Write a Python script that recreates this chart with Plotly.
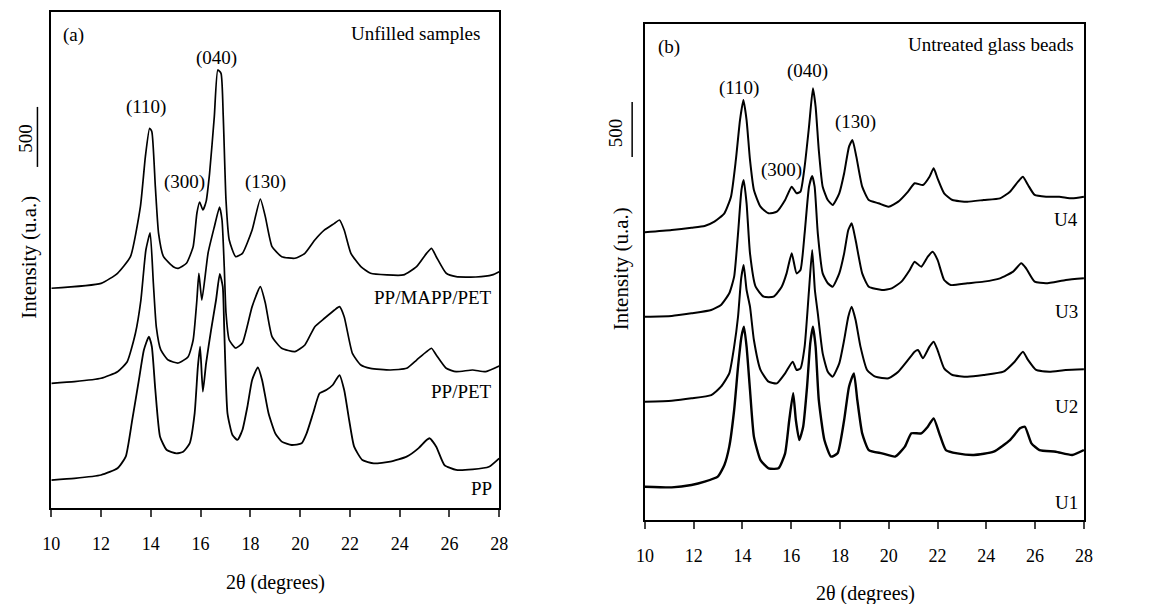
import plotly.graph_objects as go

W, H = 1149, 604

# (2theta, intensity), panel (a)
PP_MAPP_PET = [(10.0, 1831), (12.0, 1872), (12.66, 1956), (13.18, 2094), (13.58, 2511), (13.78, 2928),
               (13.95, 3164), (14.04, 3136), (14.18, 2678), (14.31, 2289), (14.51, 2094), (14.9, 2011),
               (15.1, 1997), (15.43, 2039), (15.7, 2178), (15.85, 2456), (15.96, 2550), (16.09, 2483),
               (16.22, 2553), (16.36, 2789), (16.55, 3261), (16.69, 3650), (16.82, 3622), (16.91, 3261),
               (17.02, 2567), (17.15, 2233), (17.41, 2094), (17.68, 2122), (18.07, 2317), (18.4, 2575),
               (18.6, 2428), (18.87, 2178), (19.26, 2094), (19.79, 2081), (20.19, 2122), (20.59, 2233),
               (20.98, 2317), (21.38, 2372), (21.58, 2400), (21.77, 2317), (22.04, 2122), (22.44, 2011),
               (22.83, 1956), (23.49, 1942), (24.15, 1942), (24.68, 2011), (25.08, 2122), (25.28, 2164),
               (25.47, 2094), (25.87, 1956), (26.27, 1928), (27.06, 1925), (27.72, 1942), (28.0, 1969)]

PP_PET = [(10.0, 1039), (10.93, 1053), (12.0, 1081), (12.66, 1136), (13.05, 1219), (13.38, 1456),
          (13.6, 1733), (13.8, 2150), (13.97, 2292), (14.1, 1875), (14.22, 1508), (14.4, 1317),
          (14.7, 1233), (15.1, 1208), (15.5, 1261), (15.7, 1400), (15.85, 1733), (15.93, 1956),
          (16.05, 1733), (16.3, 2125), (16.55, 2342), (16.76, 2508), (16.86, 2400), (16.95, 2008),
          (17.02, 1625), (17.15, 1400), (17.41, 1333), (17.68, 1375), (18.07, 1678), (18.4, 1844),
          (18.6, 1708), (18.87, 1428), (19.26, 1331), (19.79, 1303), (20.19, 1358), (20.59, 1511),
          (20.98, 1581), (21.38, 1650), (21.58, 1678), (21.77, 1594), (22.1, 1289), (22.44, 1192),
          (22.83, 1164), (23.62, 1150), (24.28, 1164), (24.68, 1233), (25.08, 1303), (25.28, 1331),
          (25.47, 1275), (25.87, 1164), (26.27, 1136), (26.93, 1150), (27.46, 1136), (28.0, 1183)]

PP = [(10.0, 233), (10.93, 247), (12.0, 275), (12.66, 331), (12.99, 428), (13.25, 733), (13.52, 1067),
      (13.72, 1317), (13.92, 1428), (14.04, 1344), (14.18, 983), (14.37, 594), (14.64, 483),
      (15.03, 456), (15.3, 469), (15.56, 539), (15.76, 789), (15.89, 1178), (15.98, 1344),
      (16.09, 969), (16.22, 1206), (16.42, 1483), (16.62, 1733), (16.77, 1950), (16.89, 1844),
      (16.95, 1483), (17.08, 789), (17.28, 608), (17.48, 567), (17.68, 650), (17.88, 844),
      (18.07, 1067), (18.3, 1172), (18.47, 1067), (18.73, 789), (19.0, 622), (19.26, 553),
      (19.66, 525), (20.06, 539), (20.26, 622), (20.52, 789), (20.78, 956), (21.05, 983),
      (21.31, 1025), (21.58, 1108), (21.77, 983), (21.97, 733), (22.17, 511), (22.5, 400),
      (22.96, 372), (23.62, 386), (24.28, 428), (24.75, 497), (25.08, 567), (25.21, 581),
      (25.47, 511), (25.8, 358), (26.27, 317), (26.93, 322), (27.59, 344), (28.0, 414)]

# panel (b)
U4 = [(10.0, 2615), (11.1, 2636), (11.91, 2657), (12.45, 2673), (12.85, 2712), (13.26, 2788),
      (13.53, 2939), (13.73, 3273), (13.9, 3636), (14.04, 3818), (14.17, 3636), (14.31, 3273),
      (14.47, 3000), (14.74, 2848), (15.07, 2788), (15.41, 2803), (15.75, 2909), (16.02, 3030),
      (16.22, 2970), (16.38, 2985), (16.55, 3212), (16.73, 3576), (16.89, 3924), (17.0, 3758),
      (17.13, 3364), (17.29, 3030), (17.5, 2909), (17.7, 2864), (17.97, 2970), (18.17, 3152),
      (18.37, 3394), (18.51, 3455), (18.67, 3303), (18.91, 3030), (19.18, 2909), (19.58, 2879),
      (19.99, 2848), (20.39, 2894), (20.79, 2985), (21.06, 3061), (21.4, 3045), (21.67, 3121),
      (21.84, 3197), (22.0, 3106), (22.27, 2970), (22.61, 2909), (23.22, 2894), (23.89, 2909),
      (24.56, 2924), (24.97, 2985), (25.3, 3076), (25.5, 3121), (25.71, 3045), (25.98, 2955),
      (26.45, 2939), (26.99, 2939), (27.52, 2924), (28.0, 2939)]

U3 = [(10.0, 1848), (11.1, 1855), (11.91, 1879), (12.72, 1909), (13.12, 1955), (13.46, 2061),
      (13.66, 2212), (13.82, 2606), (13.96, 3000), (14.05, 3091), (14.17, 2879), (14.31, 2424),
      (14.54, 2121), (14.87, 2030), (15.28, 2030), (15.61, 2121), (15.81, 2242), (16.02, 2424),
      (16.22, 2242), (16.38, 2273), (16.55, 2606), (16.73, 3030), (16.86, 3127), (16.96, 3030),
      (17.09, 2606), (17.29, 2242), (17.5, 2152), (17.7, 2121), (17.97, 2242), (18.17, 2424),
      (18.34, 2636), (18.48, 2697), (18.64, 2545), (18.91, 2242), (19.18, 2121), (19.72, 2091),
      (20.12, 2106), (20.52, 2167), (20.86, 2273), (21.06, 2348), (21.33, 2303), (21.6, 2394),
      (21.8, 2439), (22.0, 2364), (22.27, 2182), (22.54, 2136), (23.22, 2152), (23.89, 2167),
      (24.56, 2197), (25.1, 2258), (25.43, 2333), (25.63, 2288), (25.98, 2167), (26.45, 2152),
      (27.26, 2182), (28.0, 2197)]

U2 = [(10.0, 1076), (11.1, 1085), (11.91, 1106), (12.72, 1136), (13.12, 1212), (13.46, 1333),
      (13.66, 1576), (13.82, 1850), (13.95, 2200), (14.05, 2318), (14.17, 2091), (14.31, 1939),
      (14.47, 1636), (14.74, 1364), (15.07, 1258), (15.41, 1242), (15.75, 1333), (16.06, 1439),
      (16.22, 1364), (16.38, 1379), (16.55, 1576), (16.73, 2091), (16.86, 2455), (16.97, 2091),
      (17.09, 1879), (17.29, 1515), (17.5, 1348), (17.7, 1303), (17.97, 1424), (18.17, 1636),
      (18.34, 1848), (18.48, 1939), (18.64, 1818), (18.84, 1576), (19.11, 1364), (19.45, 1303),
      (19.99, 1288), (20.39, 1348), (20.79, 1455), (21.06, 1530), (21.2, 1545), (21.4, 1470),
      (21.67, 1576), (21.84, 1621), (22.0, 1545), (22.27, 1379), (22.61, 1318), (23.22, 1303),
      (23.89, 1318), (24.7, 1348), (25.16, 1439), (25.5, 1530), (25.71, 1455), (26.04, 1364),
      (26.58, 1348), (27.26, 1364), (28.0, 1370)]

U1 = [(10.0, 303), (11.1, 297), (11.91, 318), (12.45, 348), (12.99, 394), (13.26, 500), (13.46, 667),
      (13.66, 1000), (13.82, 1394), (13.96, 1667), (14.06, 1758), (14.17, 1576), (14.31, 1182),
      (14.47, 758), (14.74, 545), (15.07, 470), (15.48, 470), (15.75, 606), (15.92, 909),
      (16.08, 1152), (16.19, 909), (16.33, 727), (16.49, 848), (16.65, 1212), (16.78, 1606),
      (16.89, 1758), (17.0, 1576), (17.13, 1091), (17.36, 727), (17.63, 576), (17.9, 606),
      (18.17, 909), (18.37, 1212), (18.57, 1333), (18.71, 1091), (18.91, 788), (19.18, 636),
      (19.72, 606), (20.26, 576), (20.66, 667), (20.93, 788), (21.33, 788), (21.6, 848),
      (21.84, 924), (22.07, 788), (22.34, 636), (22.81, 606), (23.49, 591), (24.3, 621),
      (24.97, 727), (25.38, 833), (25.58, 848), (25.85, 697), (26.18, 636), (26.85, 621),
      (27.52, 591), (28.0, 636)]

X_TICKS = [10, 12, 14, 16, 18, 20, 22, 24, 26, 28]
Y_MAX_A = 4133
Y_MAX_B = 4509
SCALE = 500

FONT = "Liberation Serif"


def px(x):
    return x / W


def py(y):
    return 1 - y / H


fig = go.Figure()

for series, lw in [(PP_MAPP_PET, 1.7), (PP_PET, 1.7), (PP, 1.8)]:
    fig.add_trace(go.Scatter(x=[p[0] for p in series], y=[p[1] for p in series], mode="lines",
                             line=dict(color="black", width=lw, shape="spline", smoothing=0.5),
                             xaxis="x", yaxis="y", showlegend=False, hoverinfo="skip"))

for series, lw in [(U4, 2.0), (U3, 2.0), (U2, 2.0), (U1, 2.4)]:
    fig.add_trace(go.Scatter(x=[p[0] for p in series], y=[p[1] for p in series], mode="lines",
                             line=dict(color="black", width=lw, shape="spline", smoothing=0.5),
                             xaxis="x2", yaxis="y2", showlegend=False, hoverinfo="skip"))

xax = dict(range=[10, 28], tickvals=X_TICKS, ticks="outside", ticklen=7, tickwidth=1.5,
           showline=True, linecolor="black", linewidth=1.5, mirror=True, showgrid=False,
           zeroline=False, tickfont=dict(family=FONT, size=18, color="black"),
           ticklabelstandoff=12)
yax = dict(showline=True, linecolor="black", linewidth=1.5, mirror=True, showgrid=False,
           zeroline=False, showticklabels=False, ticks="")

fig.update_layout(
    width=W, height=H,
    margin=dict(l=0, r=0, t=0, b=0),
    paper_bgcolor="white", plot_bgcolor="white",
    xaxis=dict(xax, domain=[px(43), px(498)]),
    yaxis=dict(yax, domain=[py(508), py(12)], range=[0, Y_MAX_A]),
    xaxis2=dict(xax, domain=[px(646), px(1092)], anchor="y2"),
    yaxis2=dict(yax, domain=[py(520), py(24)], range=[0, Y_MAX_B], anchor="x2"),
)

# 500-count scale bars
fig.add_shape(type="line", xref="x domain", yref="y domain", x0=-0.031, x1=-0.031,
              y0=2842 / Y_MAX_A, y1=(2842 + SCALE) / Y_MAX_A, line=dict(color="black", width=1.5))
fig.add_shape(type="line", xref="x2 domain", yref="y2 domain", x0=-0.029, x1=-0.029,
              y0=3300 / Y_MAX_B, y1=(3300 + SCALE) / Y_MAX_B, line=dict(color="black", width=1.5))

labels = [
    # text, x px, y px, anchor, size, angle
    ("(a)", 66, 35, "center", 19, 0),
    ("Unfilled samples", 481, 33, "right", 19, 0),
    ("(110)", 139, 107, "center", 19, 0),
    ("(300)", 178, 182, "center", 19, 0),
    ("(040)", 211, 58, "center", 19, 0),
    ("(130)", 261, 182, "center", 19, 0),
    ("PP/MAPP/PET", 493, 297, "right", 19, 0),
    ("PP/PET", 493, 391, "right", 19, 0),
    ("PP", 493, 488, "right", 19, 0),
    ("2θ (degrees)", 271, 582, "center", 20, 0),
    ("Intensity (u.a.)", 20, 257, "center", 21, -90),
    (str(SCALE), 17, 138, "center", 19, -90),
    ("(b)", 670, 47, "center", 19, 0),
    ("Untreated glass beads", 1084, 44, "right", 19, 0),
    ("(110)", 742, 88, "center", 19, 0),
    ("(300)", 785, 170, "center", 19, 0),
    ("(040)", 811, 71, "center", 19, 0),
    ("(130)", 860, 122, "center", 19, 0),
    ("U4", 1088, 219, "right", 19, 0),
    ("U3", 1088, 311, "right", 19, 0),
    ("U2", 1088, 406, "right", 19, 0),
    ("U1", 1088, 502, "right", 19, 0),
    ("2θ (degrees)", 870, 593, "center", 20, 0),
    ("Intensity (u.a.)", 622, 269, "center", 21, -90),
    (str(SCALE), 617, 133, "center", 19, -90),
]
for text, x, y, anchor, size, angle in labels:
    fig.add_annotation(text=text, x=px(x), y=py(y), xref="paper", yref="paper",
                       xanchor=anchor, yanchor="middle", showarrow=False, textangle=angle,
                       font=dict(family=FONT, size=size, color="black"))

# drop the default page margin so the figure sits at the window's top-left corner
fig.write_html("out.html", config={"displayModeBar": False},
               post_script="document.body.style.margin = '0';")
